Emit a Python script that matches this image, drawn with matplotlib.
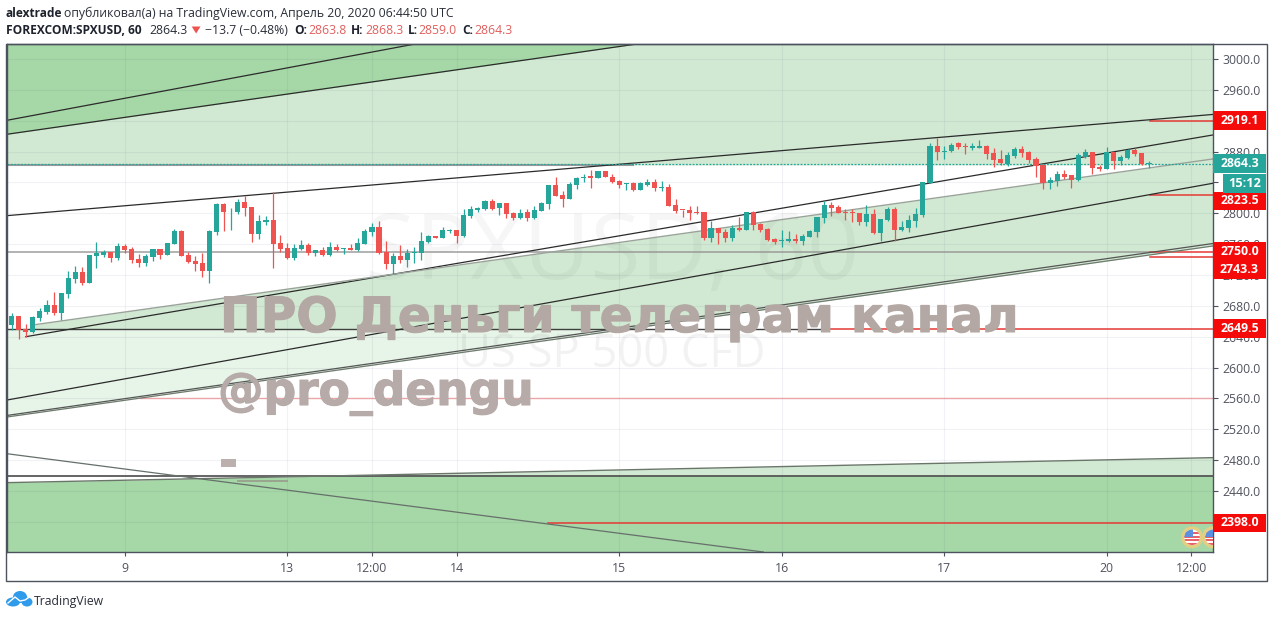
import numpy as np
import matplotlib
matplotlib.use("Agg")
import matplotlib.pyplot as plt
import matplotlib.patheffects as pe
from matplotlib.patches import Ellipse, Polygon, Rectangle

# свечи SPXUSD, 60
opens = [2655.1,2666.8,2649.5,2646.1,2664.2,2671.6,2681.1,2670.3,2695.3,2714.8,2723.9,2710.0,2744.6,2746.3,2749.8,2741.6,2758.0,2753.2,2740.7,2735.1,
         2743.3,2753.2,2746.3,2760.1,2777.0,2745.5,2738.1,2735.1,2725.6,2775.7,2812.0,2802.5,2801.6,2814.6,2808.1,2773.1,2789.1,2791.3,2761.4,2754.5,
         2742.4,2753.7,2758.9,2748.9,2752.4,2745.9,2756.3,2753.2,2754.5,2752.4,2760.1,2776.1,2782.2,2749.8,2734.2,2744.6,2739.4,2748.0,2748.9,2762.7,
         2770.1,2767.9,2777.0,2777.9,2770.5,2796.4,2804.7,2805.5,2815.9,2806.8,2812.9,2800.3,2793.4,2801.2,2794.3,2802.5,2812.0,2836.2,2823.7,2818.5,
         2836.6,2845.3,2847.9,2845.7,2854.3,2847.4,2841.8,2837.5,2839.7,2830.2,2837.1,2840.6,2832.4,2834.1,2810.3,2804.3,2804.3,2801.7,2801.7,2768.0,
         2781.0,2775.8,2768.0,2781.0,2778.8,2802.1,2786.6,2779.7,2767.1,2764.1,2764.1,2766.7,2764.1,2769.7,2776.2,2794.4,2810.8,2808.2,2802.1,2800.8,
         2800.0,2788.7,2799.1,2774.5,2790.9,2805.6,2777.9,2781.0,2790.5,2797.8,2838.9,2887.3,2879.9,2880.3,2890.7,2887.6,2885.1,2885.1,2887.6,2877.7,
         2870.0,2863.5,2874.3,2882.9,2879.5,2870.8,2862.6,2839.7,2841.9,2850.9,2849.2,2843.1,2872.5,2879.5,2859.6,2857.4,2879.5,2867.8,2871.7,2882.5,
         2878.2,2863.8]
closes = [2666.8,2648.7,2646.5,2665.9,2673.3,2681.1,2670.3,2697.1,2715.6,2723.9,2709.2,2745.9,2748.5,2749.8,2742.0,2757.6,2752.4,2739.4,2735.1,2744.6,
          2753.2,2745.9,2761.0,2777.0,2745.0,2736.8,2733.8,2725.6,2777.0,2812.0,2801.6,2803.4,2814.6,2806.8,2773.5,2789.5,2791.3,2760.1,2753.7,2742.0,
          2754.5,2758.9,2748.9,2751.9,2745.9,2756.3,2752.4,2754.5,2752.8,2761.0,2777.0,2781.8,2748.5,2734.2,2744.6,2739.4,2748.5,2749.8,2763.6,2770.5,
          2768.4,2778.3,2778.3,2770.5,2797.7,2805.5,2806.4,2815.9,2805.5,2812.9,2799.0,2793.4,2800.3,2794.3,2803.8,2813.7,2836.2,2822.8,2818.5,2837.9,
          2845.7,2847.4,2846.1,2854.3,2847.0,2840.5,2836.6,2838.8,2830.1,2838.9,2841.0,2832.8,2833.7,2809.5,2803.0,2803.9,2800.8,2800.4,2768.0,2780.5,
          2774.5,2768.0,2781.0,2778.4,2801.3,2784.9,2778.4,2765.0,2762.8,2765.4,2766.7,2763.7,2770.6,2777.1,2794.8,2810.3,2806.9,2800.8,2800.0,2800.0,
          2788.7,2798.7,2774.5,2792.6,2805.6,2778.8,2781.8,2790.9,2798.7,2840.6,2887.3,2879.9,2881.2,2889.0,2885.5,2885.9,2886.8,2886.8,2876.8,2869.1,
          2864.7,2875.1,2883.8,2877.7,2869.1,2861.7,2839.7,2843.1,2850.9,2847.5,2843.1,2875.1,2879.5,2858.3,2857.0,2879.5,2868.2,2873.0,2882.5,2876.8,
          2863.9,2864.3]
highs = [2670.3,2666.8,2656.4,2666.8,2676.8,2687.6,2697.9,2697.1,2725.1,2731.6,2729.9,2745.9,2762.3,2752.4,2749.8,2761.0,2759.7,2756.7,2746.8,2746.8,
         2753.2,2753.2,2761.0,2779.2,2778.3,2750.2,2744.6,2748.0,2778.3,2812.9,2812.9,2806.8,2818.0,2822.4,2808.1,2797.3,2796.4,2827.1,2771.8,2761.0,
         2760.1,2765.3,2761.4,2752.8,2755.8,2762.3,2759.7,2754.5,2760.1,2767.5,2779.2,2787.8,2790.4,2763.6,2748.0,2758.9,2753.7,2755.8,2775.7,2771.8,
         2770.1,2781.8,2780.0,2777.9,2805.1,2809.4,2808.1,2817.2,2818.5,2813.7,2813.7,2801.2,2805.1,2805.1,2809.4,2815.0,2836.2,2846.6,2828.4,2841.0,
         2847.4,2850.9,2856.1,2855.2,2855.2,2850.5,2843.1,2838.8,2840.5,2841.0,2844.5,2844.5,2842.3,2837.6,2818.1,2804.3,2809.5,2809.5,2801.7,2790.5,
         2781.0,2780.1,2784.9,2795.7,2801.3,2803.0,2787.9,2780.5,2768.4,2778.4,2776.6,2773.2,2773.2,2778.4,2794.8,2816.4,2814.7,2810.3,2805.2,2805.2,
         2800.8,2810.3,2805.2,2792.6,2807.8,2807.8,2789.6,2797.8,2806.5,2841.0,2890.7,2897.2,2887.3,2891.6,2892.8,2890.7,2891.5,2895.0,2888.5,2884.2,
         2882.0,2879.9,2886.4,2887.2,2880.3,2872.5,2862.6,2846.6,2855.2,2856.1,2849.2,2877.7,2882.9,2879.5,2862.6,2885.5,2879.9,2875.5,2882.9,2884.2,
         2878.2,2868.3]
lows = [2648.7,2637.0,2640.0,2645.2,2660.3,2669.8,2668.1,2661.6,2690.1,2710.0,2707.0,2710.0,2729.0,2743.7,2736.8,2739.8,2748.9,2736.0,2730.8,2732.1,
        2738.5,2740.7,2745.9,2760.1,2744.6,2735.5,2725.6,2717.4,2709.6,2772.2,2777.4,2778.3,2799.5,2796.9,2762.7,2767.1,2785.2,2729.0,2749.3,2741.1,
        2739.4,2752.4,2745.9,2745.0,2745.0,2745.0,2751.5,2747.2,2752.4,2751.5,2760.1,2770.9,2747.6,2728.2,2721.3,2736.0,2730.8,2736.0,2739.4,2761.9,
        2768.4,2767.9,2774.0,2761.9,2769.7,2793.9,2801.2,2804.7,2804.7,2798.2,2793.9,2791.7,2793.0,2790.4,2792.1,2802.5,2805.5,2822.4,2808.5,2818.5,
        2831.0,2841.0,2833.2,2845.3,2846.6,2839.7,2832.3,2830.1,2829.3,2830.2,2835.4,2829.4,2829.4,2809.5,2800.0,2795.7,2791.3,2799.1,2765.4,2763.2,
        2760.2,2763.2,2764.5,2777.1,2778.8,2778.4,2776.2,2764.5,2760.2,2756.8,2762.8,2761.1,2759.4,2769.3,2769.7,2787.0,2796.5,2800.0,2791.3,2789.2,
        2784.9,2783.6,2773.6,2764.5,2789.6,2764.5,2776.6,2775.3,2782.7,2795.7,2838.9,2869.1,2870.8,2879.9,2882.9,2876.8,2882.0,2884.2,2870.0,2860.4,
        2862.6,2861.7,2871.2,2873.4,2864.7,2847.5,2831.0,2831.0,2835.4,2844.0,2833.2,2841.9,2871.7,2850.9,2855.2,2857.4,2857.4,2862.6,2870.8,2874.3,
        2862.6,2859.0]

y_ticks = list(range(2400, 3001, 40))
x_tick_pos = [16, 39, 51, 63, 86, 109, 132, 155, 167]
x_tick_labels = ["9", "13", "12:00", "14", "15", "16", "17", "20", "12:00"]

# трендовые линии: (x0, y0, x1, y1)
top_outer = (-0.665, 2920.5, 57.1, 3019.4)
top_inner = (-0.665, 2902.4, 88.5, 3019.4)
channel_a = (-0.665, 2796.9, 170.06, 2928.1)
channel_b = (2.0, 2640.0, 170.06, 2901.5)
channel_c = (-0.665, 2557.9, 170.06, 2838.9)
band_upper = (3.0, 2655.2, 170.06, 2870.4)
double_a = (-0.665, 2537.9, 170.06, 2760.8)
double_b = (-0.665, 2535.9, 170.06, 2757.6)
bottom_slope = (-0.665, 2450.8, 170.06, 2483.2)
falling = (-0.665, 2488.3, 106.4, 2360.9)

# ценовые метки: значение, положение подписи
red_levels = [2919.1, 2823.5, 2750.0, 2743.3, 2649.5, 2398.0]
red_label_pos = [2920.0, 2816.0, 2751.0, 2727.0, 2650.6, 2398.5]
red_line_start = [161.1, 161.1, 161.1, 161.1, 115.1, 75.9]
last_price = 2864.3
countdown = "15:12"
countdown_pos = 2838.7
flag_x = [167.1, 170.06]
flag_price = 2380.0

GREEN = "#26a69a"
RED = "#ef5350"
F_DARK = "#a6d7a7"
F_LIGHT = "#d1e9d2"
F_PALE = "#e7f4e8"
AXIS = "#4c525e"
TICK = "#50535e"
XL, XR = -0.665, 170.06
YB, YT = 2360.9, 3019.4
PX_X = 1 / 7.064
PX_Y = 1.2963

plt.rcParams['font.family'] = ['Open Sans', 'DejaVu Sans']
fig = plt.figure(figsize=(12.74, 6.18), dpi=100)
ax = fig.add_axes([7 / 1274, 1 - 552 / 618, 1206 / 1274, 508 / 618])
ax.set_xlim(XL, XR)
ax.set_ylim(YB, YT)


def line_y(seg, xs):
    return seg[1] + (seg[3] - seg[1]) * (xs - seg[0]) / (seg[2] - seg[0])


xs = np.linspace(XL, XR, 800)

# заливки
ax.fill_between(xs, 2862.6, YT, color=F_LIGHT, lw=0, zorder=1)
ax.fill_between(xs, line_y(top_inner, xs), YT, where=line_y(top_inner, xs) < YT, color=F_DARK, lw=0, zorder=1.1)
dbl = line_y(double_b, xs)
ax.fill_between(xs, dbl, 2649.5, where=dbl < 2649.5, color=F_PALE, lw=0, zorder=1)
ax.fill_between(xs, np.maximum(dbl, 2649.5), line_y(band_upper, xs), where=xs >= 3, color=F_LIGHT, lw=0, zorder=1)
slope = line_y(bottom_slope, xs)
ax.fill_between(xs, YB, np.minimum(slope, 2458.8), color=F_DARK, lw=0, zorder=1)
ax.fill_between(xs, 2458.8, slope, where=slope > 2458.8, color=F_LIGHT, lw=0, zorder=1)

# сетка
for t in y_ticks:
    ax.axhline(t, color="#4a5a80", alpha=0.08, lw=0.8, zorder=1.5)
for t in x_tick_pos:
    ax.axvline(t, color="#4a5a80", alpha=0.08, lw=0.8, zorder=1.5)

# водяной знак инструмента
ax.text(85, 2745, "SPXUSD, 60", fontsize=66, color="black", alpha=0.035, ha="center", va="center", zorder=1.6)
ax.text(85, 2616, "US SP 500 CFD", fontsize=32.6, color="black", alpha=0.05, ha="center", va="center", zorder=1.6)

# горизонтальные уровни
ax.plot([XL, 88], [2862.8, 2862.8], color="#9a9a9a", lw=1.5, zorder=2)
ax.plot([XL, 161], [2750, 2750], color="#8f8f8f", lw=1.2, alpha=0.8, zorder=2)
ax.plot([XL, 115.1], [2649.5, 2649.5], color="#3f3f3f", lw=1.0, zorder=2)
ax.plot([18.2, XR], [2560.5, 2560.5], color="#e57373", lw=1.0, alpha=0.6, zorder=2)
ax.plot([XL, XR], [2458.8, 2458.8], color="#4a4a4a", lw=1.2, zorder=2)
for lvl, start in zip(red_levels, red_line_start):
    ax.plot([start, XR], [lvl, lvl], color="#e53935", lw=1.1, zorder=2.1)

# трендовые линии
for seg in [top_outer, top_inner, channel_a, channel_b, channel_c]:
    ax.plot([seg[0], seg[2]], [seg[1], seg[3]], color="#2b2b2b", lw=0.9, zorder=2.2)
ax.plot([band_upper[0], band_upper[2]], [band_upper[1], band_upper[3]], color="#9aa39a", lw=1.0, zorder=2.2)
ax.plot([double_a[0], double_a[2]], [double_a[1], double_a[3]], color="#555555", lw=0.9, zorder=2.2)
ax.plot([double_b[0], double_b[2]], [double_b[1], double_b[3]], color="#6f7a6f", lw=0.9, zorder=2.2)
ax.plot([bottom_slope[0], bottom_slope[2]], [bottom_slope[1], bottom_slope[3]], color="#6a766a", lw=1.0, zorder=2.2)
ax.plot([falling[0], falling[2]], [falling[1], falling[3]], color="#66706a", lw=0.9, zorder=2.2)

# текущая цена
ax.axhline(last_price, color=GREEN, lw=0.9, ls=(0, (1.5, 1.2)), zorder=2.3)

# свечи
o = np.array(opens)
c = np.array(closes)
idx = np.arange(len(o))
cols = [GREEN if cl >= op else RED for op, cl in zip(o, c)]
ax.vlines(idx, lows, highs, colors=cols, lw=0.9, zorder=3)
body_h = np.maximum(np.abs(c - o), 1.0)
ax.bar(idx, body_h, bottom=np.minimum(o, c), width=0.72, color=cols, lw=0, zorder=3.1)

# значки новостей США
for cx in flag_x:
    cy = flag_price
    ax.add_patch(Ellipse((cx, cy), 22 * PX_X, 22 * PX_Y, color="#e3cf82", lw=0, zorder=4))
    disc = Ellipse((cx, cy), 15.5 * PX_X, 15.5 * PX_Y, color="white", lw=0, zorder=4.1)
    ax.add_patch(disc)
    for row in [-6.5, -3.0, 0.5, 4.0]:
        stripe = Rectangle((cx - 8 * PX_X, cy + (row - 1) * PX_Y), 16 * PX_X, 2 * PX_Y, color="#e8616a", lw=0, zorder=4.2)
        ax.add_patch(stripe)
        stripe.set_clip_path(disc)
    canton = Rectangle((cx - 8 * PX_X, cy), 9 * PX_X, 8 * PX_Y, color="#5b8fe0", lw=0, zorder=4.3)
    ax.add_patch(canton)
    canton.set_clip_path(disc)

# оси
ax.yaxis.tick_right()
ax.set_yticks(y_ticks, [f"{t:.1f}" for t in y_ticks])
ax.set_xticks(x_tick_pos, x_tick_labels)
ax.tick_params(axis="y", length=3.6, width=0.8, color=AXIS, labelcolor=TICK, labelsize=8.8, pad=3)
ax.tick_params(axis="x", length=3.0, width=0.8, color=AXIS, labelcolor=TICK, labelsize=8.8, pad=4)
for sp in ax.spines.values():
    sp.set_color(AXIS)
    sp.set_linewidth(1.0)

# ценовые плашки
tr = ax.get_yaxis_transform()
box_w = 53 / 1206
box_h = 18.7 * PX_Y
for lvl, pos in zip(red_levels, red_label_pos):
    ax.add_patch(Rectangle((1, pos - box_h / 2), box_w, box_h, transform=tr, color="#f50a0a", lw=0, clip_on=False, zorder=5))
    ax.text(1 + box_w / 2, pos, f"{lvl:.1f}", transform=tr, color="white", fontsize=8.8, fontweight="bold",
            ha="center", va="center", clip_on=False, zorder=6)
ax.add_patch(Rectangle((1, last_price - box_h / 2), box_w, box_h, transform=tr, color=GREEN, lw=0, clip_on=False, zorder=5))
ax.text(1 + box_w / 2, last_price, f"{last_price:.1f}", transform=tr, color="white", fontsize=8.8, fontweight="bold",
        ha="center", va="center", clip_on=False, zorder=6)
cd_w = 43 / 1206
ax.add_patch(Rectangle((1 + box_w - cd_w, countdown_pos - box_h / 2), cd_w, box_h, transform=tr, color=GREEN, lw=0, clip_on=False, zorder=5))
ax.text(1 + box_w - cd_w / 2, countdown_pos, countdown, transform=tr, color="white", fontsize=9.2, fontweight="bold",
        ha="center", va="center", clip_on=False, zorder=6)

# верхний слой в пикселях картинки
fg = fig.add_axes([0, 0, 1, 1], zorder=10)
fg.set_xlim(0, 1274)
fg.set_ylim(618, 0)
fg.axis("off")
fg.patch.set_alpha(0)

fg.add_patch(Rectangle((6, 44), 1261, 537, fill=False, edgecolor=AXIS, lw=1.0))

# шапка
DARK = "#1e222d"
fg.text(6, 17, "alextrade", fontsize=8.6, fontweight="bold", color=DARK)
fg.text(64, 17, "опубликовал(а) на TradingView.com, Апрель 20, 2020 06:44:50 UTC", fontsize=8.85, color="#2a2e39")
fg.text(6, 34, "FOREXCOM:SPXUSD, 60", fontsize=8.6, fontweight="bold", color=DARK)
fg.text(149, 34, "2864.3", fontsize=8.85, color="#2a2e39")
fg.add_patch(Polygon([(191.7, 26.5), (200.5, 26.5), (196.1, 33.5)], color="#ef5350", lw=0))
fg.text(205, 34, "−13.7 (−0.48%)", fontsize=8.85, color="#2a2e39")
for lbl, lx, val, vx in [("O:", 294, "2863.8", 308), ("H:", 351, "2868.3", 365), ("L:", 408, "2859.0", 418), ("C:", 462, "2864.3", 474)]:
    fg.text(lx, 34, lbl, fontsize=8.6, fontweight="bold", color=DARK)
    fg.text(vx, 34, val, fontsize=8.85, color="#e0605e")

# наложенная надпись канала
WM = "#b3a8a3"
bold_edge = [pe.withStroke(linewidth=0.8, foreground=WM)]
fg.text(220, 332, "ПРО Деньги телеграм канал", fontsize=35.0, fontweight="bold", family="DejaVu Sans", color=WM,
        alpha=0.95, path_effects=bold_edge)
fg.text(218, 405, "@pro_dengu", fontsize=32.8, fontweight="bold", family="DejaVu Sans", color="#b7abaa",
        alpha=0.95, path_effects=bold_edge)
fg.add_patch(Rectangle((221, 459), 15, 8, color="#bcb0ae", lw=0))
fg.add_patch(Rectangle((237, 479.5), 51, 2, color="#9aa58f", lw=0))

# логотип
for ex, ey, ew, eh in [(13, 602, 14, 9), (20, 597, 14, 12), (27, 602, 11, 9)]:
    fg.add_patch(Ellipse((ex, ey), ew, eh, color="#2f9bea", lw=0))
fg.plot([8, 15, 20, 25, 31], [603, 597, 601, 600, 596], color="white", lw=1.0)
fg.text(34, 605, "TradingView", fontsize=8.85, color="#2a2e39")

plt.savefig("out.png", dpi=100)
